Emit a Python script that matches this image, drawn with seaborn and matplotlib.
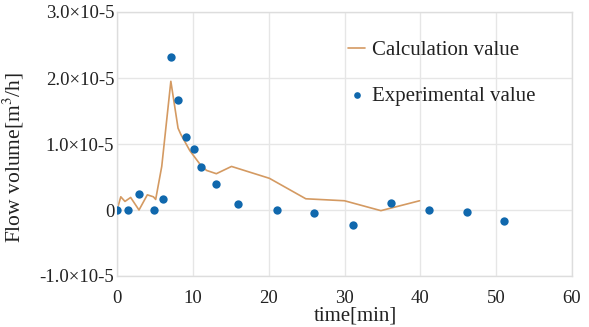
import numpy as np
import pandas as pd
import matplotlib
matplotlib.use("Agg")
import matplotlib.pyplot as plt
import seaborn as sns
from matplotlib.ticker import FixedLocator, FuncFormatter

# Calculation value (line)
calc_time = [0, 0.5, 1.05, 1.8, 2.9, 4.0, 4.8, 5.1, 5.9, 7.1, 8.05, 8.4, 9.6, 10.9, 11.8, 13.1, 15.1, 20.1, 24.9, 30.0, 34.8, 39.9]
calc_flow = [0, 0.20, 0.13, 0.19, 0.0, 0.23, 0.20, 0.16, 0.66, 1.95, 1.24, 1.15, 0.90, 0.70, 0.60, 0.55, 0.66, 0.48, 0.17, 0.14, -0.01, 0.14]

# Experimental value (points)
exp_time = [0, 1.5, 2.9, 4.9, 6.0, 7.1, 8.1, 9.1, 10.2, 11.1, 13.0, 16.0, 21.1, 26.0, 31.1, 36.1, 41.1, 46.1, 51.0]
exp_flow = [0, 0, 0.24, 0, 0.16, 2.32, 1.67, 1.10, 0.93, 0.65, 0.39, 0.095, 0, -0.04, -0.23, 0.10, 0, -0.03, -0.16]

scale = 1e-5
y_ticks = [-1.0, 0.0, 1.0, 2.0, 3.0]
x_ticks = [0, 10, 20, 30, 40, 50, 60]

sns.set_theme(style="whitegrid")
plt.rcParams['font.family'] = ['Liberation Serif', 'DejaVu Serif']
plt.rcParams['mathtext.fontset'] = 'stix'

fig = plt.figure(figsize=(5.89, 3.27), dpi=100)
ax = fig.add_axes([117/589, 1-276/327, (572-117)/589, (276-12)/327])

calc_df = pd.DataFrame({"time": calc_time, "flow": np.array(calc_flow) * scale})
exp_df = pd.DataFrame({"time": exp_time, "flow": np.array(exp_flow) * scale})

sns.lineplot(data=calc_df, x="time", y="flow", ax=ax, color="#d49a62", linewidth=1.2,
             label="Calculation value", sort=False)
sns.scatterplot(data=exp_df, x="time", y="flow", ax=ax, color="#1068ad", s=36,
                linewidth=0, label="Experimental value", zorder=3)

ax.set_xlim(0, 60)
ax.set_ylim(-1e-5, 3e-5)
ax.xaxis.set_major_locator(FixedLocator(x_ticks))
ax.yaxis.set_major_locator(FixedLocator([v * scale for v in y_ticks]))

def yfmt(v, pos):
    m = v / scale
    if abs(m) < 1e-9:
        return "0"
    return f"{m:.1f}\u00d710-5"

ax.yaxis.set_major_formatter(FuncFormatter(yfmt))
ax.tick_params(axis="y", labelsize=13.5, pad=2, length=0, colors="#222222")
ax.tick_params(axis="x", labelsize=13.5, pad=10, length=0, colors="#222222")

ax.grid(True, color="#e6e6e6", linewidth=1.0)
for sp in ax.spines.values():
    sp.set_color("#dddddd")
    sp.set_linewidth(1.0)

ax.set_xlabel("time[min]", fontsize=15, color="#222222")
ax.set_ylabel("Flow volume[m$^3$/h]", fontsize=15.5, color="#222222")
ax.xaxis.set_label_coords((355-117)/455, (276-307)/264)
ax.yaxis.set_label_coords((26-117)/455, (276-157)/264)

leg = ax.legend(loc="upper left", bbox_to_anchor=((340-117)/455, (276-32)/264),
                frameon=False, fontsize=15, handlelength=0.8, handletextpad=0.35,
                labelspacing=1.25, borderaxespad=0, markerscale=0.8)
for t in leg.get_texts():
    t.set_color("#222222")

fig.savefig("out.png", dpi=100)
